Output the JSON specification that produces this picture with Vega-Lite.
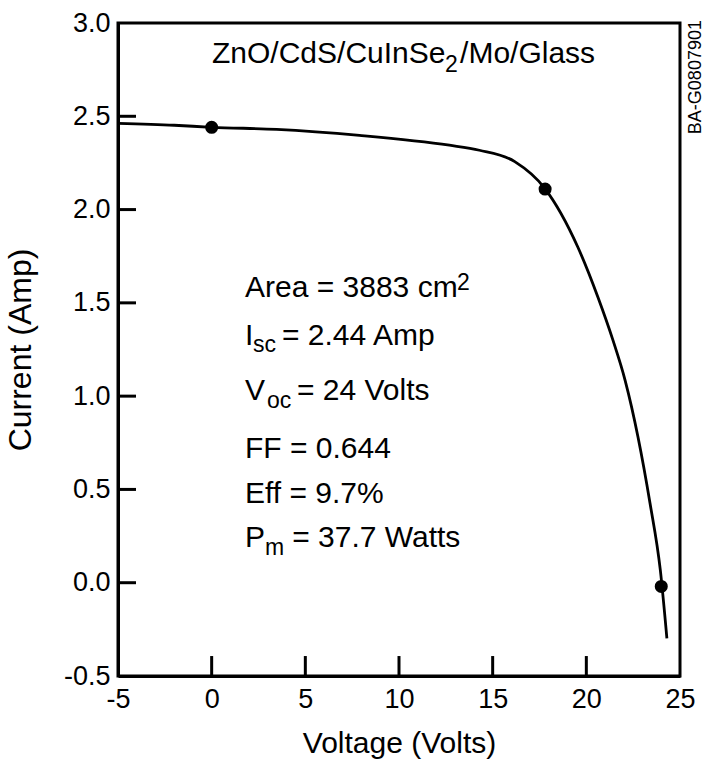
{
  "$schema": "https://vega.github.io/schema/vega-lite/v6.json",
  "width": 562,
  "height": 653,
  "autosize": "none",
  "padding": {"left": 118, "top": 23, "right": 30, "bottom": 85},
  "background": "white",
  "config": {
    "view": {"stroke": "black", "strokeWidth": 3},
    "font": "Liberation Sans",
    "axis": {
      "grid": false,
      "ticks": false,
      "zindex": 1,
      "domainColor": "black",
      "domainWidth": 3,
      "labelColor": "black",
      "titleColor": "black",
      "labelFont": "Liberation Sans",
      "titleFont": "Liberation Sans",
      "labelFontSize": 27,
      "titleFontWeight": "normal"
    }
  },
  "datasets": {
    "curve": [
      {"V": -5, "I": 2.462},
      {"V": -2, "I": 2.452},
      {"V": 0, "I": 2.441},
      {"V": 3.47, "I": 2.43},
      {"V": 7.89, "I": 2.398},
      {"V": 12.69, "I": 2.345},
      {"V": 14.29, "I": 2.318},
      {"V": 16.18, "I": 2.257},
      {"V": 17.78, "I": 2.114},
      {"V": 19.55, "I": 1.798},
      {"V": 20.62, "I": 1.53},
      {"V": 21.42, "I": 1.3},
      {"V": 22.07, "I": 1.085},
      {"V": 22.76, "I": 0.78},
      {"V": 23.4, "I": 0.426},
      {"V": 23.95, "I": 0.067},
      {"V": 24.3, "I": -0.298}
    ],
    "dots": [
      {"V": 0, "I": 2.441},
      {"V": 17.8, "I": 2.11},
      {"V": 24.0, "I": -0.02}
    ],
    "xticks": [
      {"V": 0, "I": -0.5, "I2": -0.393},
      {"V": 5, "I": -0.5, "I2": -0.393},
      {"V": 10, "I": -0.5, "I2": -0.393},
      {"V": 15, "I": -0.5, "I2": -0.393},
      {"V": 20, "I": -0.5, "I2": -0.393}
    ],
    "yticks": [
      {"I": 0, "V": -5, "V2": -4.04},
      {"I": 0.5, "V": -5, "V2": -4.04},
      {"I": 1.0, "V": -5, "V2": -4.04},
      {"I": 1.5, "V": -5, "V2": -4.04},
      {"I": 2.0, "V": -5, "V2": -4.04},
      {"I": 2.5, "V": -5, "V2": -4.04}
    ],
    "labels": [
      {"V": 0.018, "I": 2.786, "t": "ZnO/CdS/CuInSe", "role": "main"},
      {"V": 12.46, "I": 2.737, "t": "2", "role": "small"},
      {"V": 13.26, "I": 2.786, "t": "/Mo/Glass", "role": "main"},
      {"V": 1.779, "I": 1.531, "t": "Area = 3883 cm", "role": "main"},
      {"V": 13.1, "I": 1.569, "t": "2", "role": "small"},
      {"V": 1.779, "I": 1.274, "t": "I", "role": "main"},
      {"V": 2.206, "I": 1.237, "t": "sc", "role": "small"},
      {"V": 3.754, "I": 1.274, "t": "= 2.44 Amp", "role": "main"},
      {"V": 1.779, "I": 0.979, "t": "V", "role": "main"},
      {"V": 2.954, "I": 0.936, "t": "oc", "role": "small"},
      {"V": 4.55, "I": 0.979, "t": "= 24 Volts", "role": "main"},
      {"V": 1.779, "I": 0.668, "t": "FF = 0.644", "role": "main"},
      {"V": 1.779, "I": 0.427, "t": "Eff = 9.7%", "role": "main"},
      {"V": 1.779, "I": 0.191, "t": "P", "role": "main"},
      {"V": 2.847, "I": 0.148, "t": "m", "role": "small"},
      {"V": 4.3, "I": 0.191, "t": "= 37.7 Watts", "role": "main"}
    ],
    "tag": [
      {"V": 25.85, "I": 2.71, "t": "BA-G0807901"}
    ]
  },
  "encoding": {
    "x": {
      "field": "V",
      "type": "quantitative",
      "scale": {"domain": [-5, 25], "nice": false},
      "axis": {
        "title": "Voltage (Volts)",
        "titleFontSize": 30,
        "values": [-5, 0, 5, 10, 15, 20, 25],
        "labelExpr": "replace(datum.label, '−', '-')",
        "labelFlush": false,
        "labelPadding": 10,
        "titlePadding": 16
      }
    },
    "y": {
      "field": "I",
      "type": "quantitative",
      "scale": {"domain": [-0.5, 3.0], "nice": false},
      "axis": {
        "title": "Current (Amp)",
        "titleFontSize": 32,
        "values": [-0.5, 0, 0.5, 1.0, 1.5, 2.0, 2.5, 3.0],
        "format": ".1f",
        "labelExpr": "replace(datum.label, '−', '-')",
        "labelPadding": 8,
        "titlePadding": 26
      }
    }
  },
  "layer": [
    {
      "data": {"name": "xticks"},
      "mark": {"type": "rule", "color": "black", "strokeWidth": 3},
      "encoding": {"y2": {"field": "I2"}}
    },
    {
      "data": {"name": "yticks"},
      "mark": {"type": "rule", "color": "black", "strokeWidth": 3},
      "encoding": {"x2": {"field": "V2"}}
    },
    {
      "data": {"name": "curve"},
      "mark": {"type": "line", "color": "black", "strokeWidth": 2.8, "interpolate": "monotone", "clip": false}
    },
    {
      "data": {"name": "dots"},
      "mark": {"type": "point", "filled": true, "color": "black", "opacity": 1, "size": 170}
    },
    {
      "data": {"name": "labels"},
      "transform": [{"filter": "datum.role === 'main'"}],
      "mark": {"type": "text", "align": "left", "baseline": "alphabetic", "fontSize": 30, "color": "black", "font": "Liberation Sans"},
      "encoding": {"text": {"field": "t"}}
    },
    {
      "data": {"name": "labels"},
      "transform": [{"filter": "datum.role === 'small'"}],
      "mark": {"type": "text", "align": "left", "baseline": "alphabetic", "fontSize": 23, "color": "black", "font": "Liberation Sans"},
      "encoding": {"text": {"field": "t"}}
    },
    {
      "data": {"name": "tag"},
      "mark": {"type": "text", "align": "center", "baseline": "middle", "angle": 270, "fontSize": 18, "color": "black", "font": "Liberation Sans", "clip": false},
      "encoding": {"text": {"field": "t"}}
    }
  ]
}
